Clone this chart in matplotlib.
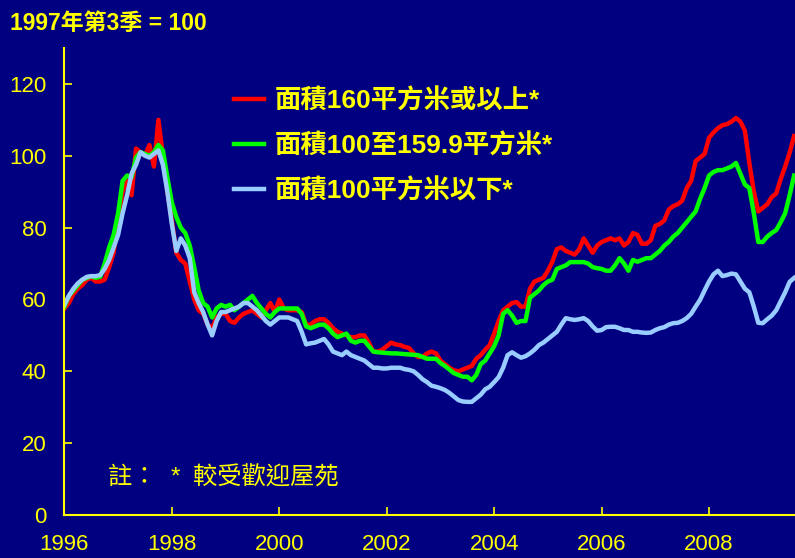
import numpy as np
import matplotlib
matplotlib.use("Agg")
import matplotlib.pyplot as plt

plt.rcParams["font.family"] = ["Liberation Sans", "Noto Sans CJK TC"]

# monthly index, Jan 1996 onwards (1997 Q3 = 100)
start_year = 1996
large = [57.5, 59, 61.5, 63, 64, 65.5, 66, 65, 65, 65.5, 69, 73,
         82, 90, 93, 89, 102, 101, 100, 103, 97, 110, 100, 90,
         82, 73, 71, 70, 65, 60, 57, 56, 53, 52, 55, 56,
         56, 54, 53.5, 55, 56, 56.5, 57, 56, 55, 57, 59, 56.5,
         60, 57.5, 57, 57, 57, 56.5, 53, 53, 54, 54.5, 54.5, 53.5,
         52, 51, 50.5, 50, 49.5, 49.5, 50, 50, 48, 45.5, 45.5, 46,
         47, 48, 47.5, 47.3, 46.8, 46.5, 45, 44, 44, 45, 45.5, 45,
         43, 42, 41, 40.3, 40, 40.5, 41, 41.5, 43.5, 44.5, 46, 47.3,
         50.5, 54, 57, 58, 59, 59.3, 58, 58, 63, 65, 65.5, 66,
         68, 70.5, 74, 74.5, 73.5, 73, 72.5, 74, 77, 75, 73, 75,
         76, 76.5, 77, 76.5, 77, 75, 76, 78.5, 78, 75.5, 75.5, 76.5,
         80.5, 81, 82, 85, 86, 86.5, 87.5, 91, 93, 98.5, 99.5, 100.5,
         105, 106.5, 107.7, 108.5, 108.8, 109.5, 110.5, 109.5, 107, 98, 90, 84.5,
         85.5, 86.5, 88.5, 89.5, 93.5, 97, 100.8, 105.5]
medium = [58, 61, 62.5, 64, 65.5, 66, 66.5, 66, 66.3, 70, 74.5, 78,
          84, 93, 94.5, 94, 99.5, 101, 100.5, 100, 101, 103, 101.5, 94,
          87, 83, 80, 78.5, 75, 69, 62.5, 59, 58, 55, 57.5, 58.5,
          58, 58.5, 57, 58, 59, 60, 61, 59, 57.5, 56, 55, 56.5,
          57.5, 57.5, 57.5, 57.5, 57.5, 56, 52.5, 52, 52.5, 53, 53, 52,
          50.5, 49.5, 50, 50.5, 48.5, 48, 48.5, 48.5, 47, 45.5, 45.3, 45.2,
          45.1, 45, 45, 44.9, 44.8, 44.7, 44.6, 44.5, 44, 43.5, 43.5, 43.5,
          42.3, 41.5, 40.5, 39.5, 39, 38.5, 38.5, 37.5, 39, 42, 43, 45,
          47, 50, 56, 57, 55.5, 53.5, 54, 54, 60.5, 61.5, 62.5, 64,
          65, 65.5, 68.5, 69, 69.5, 70.4, 70.4, 70.4, 70.4, 70, 69, 68.7,
          68.5, 68, 68, 69.5, 71.5, 70, 68, 71, 70.5, 71, 71.5, 71.5,
          72.5, 73.5, 75, 76, 77.5, 78.5, 80, 81.5, 83, 84.5, 88, 91,
          94.5, 95.5, 96, 96, 96.5, 97, 98, 95, 92, 91, 84, 76,
          76, 77.5, 78.5, 79.3, 81.5, 84, 89, 94.5]
small = [58.5, 61, 63, 64.5, 65.5, 66.3, 66.5, 66.5, 66.8, 68.5, 71, 74.5,
         78, 84, 89, 95, 97.5, 101, 100, 99.5, 100.5, 101.5, 97.5, 90,
         81, 73.5, 77, 75, 71.5, 62, 59, 56.5, 53, 50, 54, 56.5,
         56.5, 57, 57.5, 58, 59, 59, 58, 57, 55.5, 54, 53, 54,
         55, 55, 55, 54.5, 54, 51, 47.5, 47.8, 48, 48.5, 49, 47.5,
         45.5, 45, 44.5, 45.5, 44.5, 44, 43.5, 43, 42, 41, 41, 40.8,
         40.8, 41, 41, 41, 40.6, 40.4, 40, 39, 37.8, 37, 36, 35.7,
         35.3, 34.8, 34, 33, 32, 31.6, 31.5, 31.5, 32.5, 33.5, 35, 35.7,
         37, 38.4, 41, 44.5, 45.3, 44.5, 43.8, 44.2, 45, 46, 47.3, 48,
         49, 50, 51, 53, 54.8, 54.5, 54.3, 54.5, 54.8, 54, 52.5, 51.3,
         51.5, 52.3, 52.4, 52.4, 52, 51.5, 51.5, 51, 51, 50.8, 50.7, 50.8,
         51.5, 52, 52.3, 53, 53.4, 53.5, 54, 54.8, 56, 58, 59.9, 62.5,
         65, 67, 68, 66.5, 66.8, 67.2, 67, 65, 63, 62, 58, 53.5,
         53.4, 54.5, 55.5, 57, 59.5, 62, 64.9, 66]

labels = ["面積160平方米或以上*", "面積100至159.9平方米*", "面積100平方米以下*"]
colors = ["#ff0000", "#00ff00", "#99ccff"]
year_ticks = [1996, 1998, 2000, 2002, 2004, 2006, 2008]
y_ticks = [0, 20, 40, 60, 80, 100, 120]

bg = "#000080"
fg = "#ffff00"

fig = plt.figure(figsize=(7.95, 5.58), dpi=100, facecolor=bg)
ax = fig.add_axes([0.081, 0.077, 0.919, 0.837], facecolor=bg)

x = start_year + np.arange(len(large)) / 12.0
for series, lab, col in zip([large, medium, small], labels, colors):
    ax.plot(x, series, color=col, lw=3.2, label=lab, solid_joinstyle="round")

ax.set_xlim(1996, 2009.6)
ax.set_ylim(0, 130)
ax.set_xticks(year_ticks)
ax.set_yticks(y_ticks)
for side in ["top", "right"]:
    ax.spines[side].set_visible(False)
for side in ["left", "bottom"]:
    ax.spines[side].set_color(fg)
    ax.spines[side].set_linewidth(1.5)
ax.tick_params(axis="both", direction="in", colors=fg, length=6, width=1.2,
               labelsize=16)
ax.tick_params(axis="y", pad=13)
ax.tick_params(axis="x", pad=14)

leg = ax.legend(loc="upper left", bbox_to_anchor=(0.232, 0.914), frameon=False,
                prop={"size": 19, "weight": "bold"}, handlelength=1.15,
                handletextpad=0.4, labelspacing=0.75, borderpad=0,
                borderaxespad=0)
for t in leg.get_texts():
    t.set_color(fg)

fig.text(0.013, 0.957, "1997年第3季 = 100", color=fg, fontsize=16.5,
         fontweight="bold", ha="left", va="center")
ax.text(0.06, 0.08, "註：  *  較受歡迎屋苑", color=fg, fontsize=17.5,
        style="italic", transform=ax.transAxes, ha="left", va="center")

fig.savefig("out.png", dpi=100, facecolor=bg)
